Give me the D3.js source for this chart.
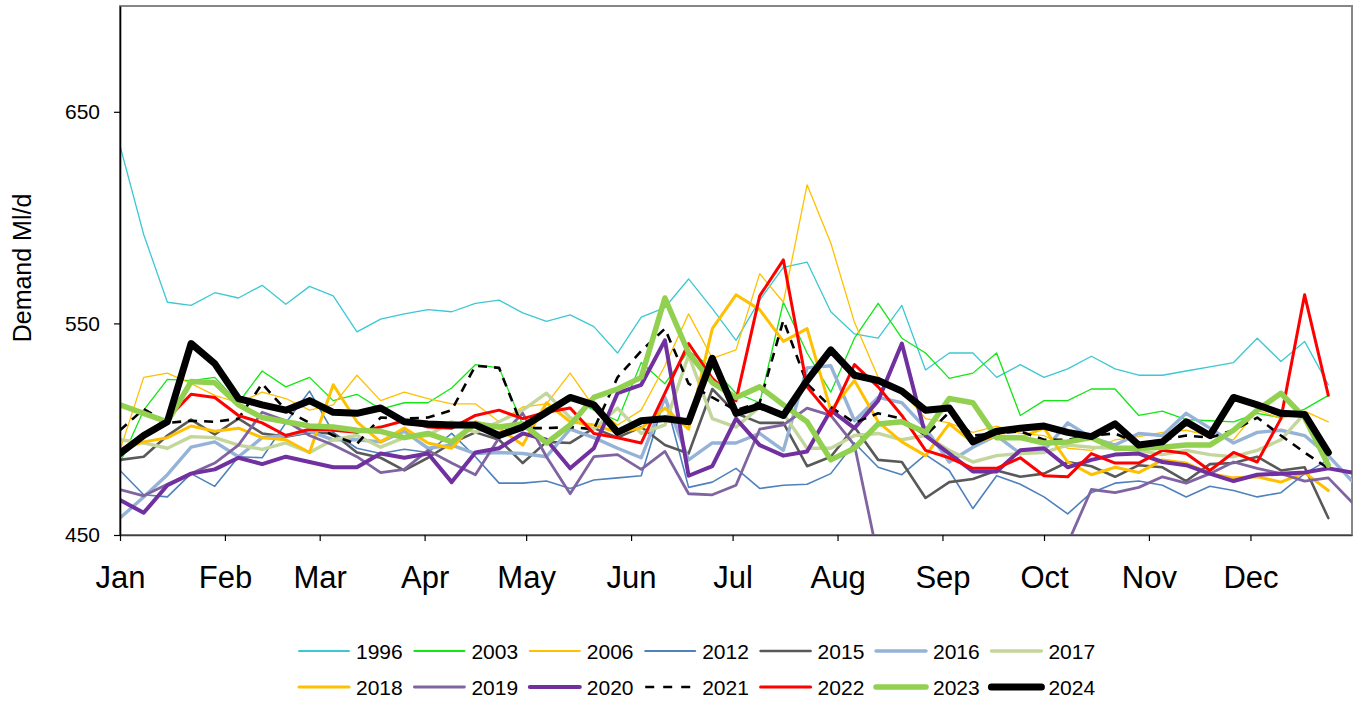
<!DOCTYPE html>
<html>
<head>
<meta charset="utf-8">
<script src="https://cdn.jsdelivr.net/npm/d3@7"></script>
<style>
  html, body { margin: 0; padding: 0; background: #ffffff; }
  svg { display: block; font-family: "Liberation Sans", Arial, sans-serif; }
</style>
</head>
<body>
<svg id="chart" width="1361" height="709"></svg>
<script>
// ---------------- data (weekly demand, Ml/d) ----------------
const monthLabels = ["Jan","Feb","Mar","Apr","May","Jun","Jul","Aug","Sep","Oct","Nov","Dec"];
const monthStartDays = [0,31,59,90,120,151,181,212,243,273,304,334];
const yTickValues = [450, 550, 650];
const seriesNames = ["1996","2003","2006","2012","2015","2016","2017","2018","2019","2020","2021","2022","2023","2024"];

const y1996 = [634,592,560,558.5,564.5,562,568,559,567.5,563,546,552,554.5,556.5,555.5,559.5,561,555,551,554,548.5,536,553,557.5,571,557,542,561,576.5,579,555.5,545,543,558.5,528,536,536,524.5,530.5,524.5,528.5,534.5,528.5,525.5,525.5,527.5,529.5,531.5,543,532,541.5,521];
const y2003 = [484,509,523.5,523,524.5,512.5,527.5,520,524.5,513.5,516.5,509.5,512.5,512.5,519.5,530.5,529,502,510,515,509,504,531.5,521.5,537,529,517,512.5,560,536,517.5,543,559.5,543,536,524,526.5,536,506.5,513.5,513.5,519,519,506.5,508.5,504.5,504,503.5,507.5,505.5,509.5,516];
const y2006 = [490,524.5,526.5,521.5,516,512.5,517.5,514.5,509,511.5,525.5,513.5,517.5,514.5,512,512,503.5,510.5,512,526.5,510.5,502,509,530,554.5,533.5,537.5,573.5,560,615.5,588,550.5,524.5,518,505,503,498.5,501.5,498,497,491,490,495,496.5,498.5,499.5,497,495,509,505,508.5,503.5];
const y2012 = [480.5,469,468,479,473,487,486.5,503,518,498.5,491,488.5,490.5,489,498,487,474.5,474.5,475.5,472,476,477,478,515,472.5,475,481.5,472,473.5,474,479,493.5,482,478.5,488,480.5,462.5,478,474,468,460,470,474.5,475.5,473.5,468,473,471,468,470,479,485.5];
const y2015 = [485.5,487,497,504.5,497.5,505,498,496.5,498.5,498,489,486.5,480.5,486.5,493.5,498.5,495,484,494,493.5,500.5,496,501,492.5,488.5,519,507.5,503,503,482.5,487,501,485.5,484.5,467.5,475,476.5,480.5,477.5,479,484.5,482.5,477.5,483,482,475.5,483.5,484,487,480.5,482,458];
const y2016 = [458,468,478.5,491.5,494,487,496,497,499,495,495,494,499,491,492.5,488.5,489,488.5,487,500,496,491,486.5,515,485.5,493.5,493.5,498,490,529,530,504,515,512.5,500.5,484.5,491.5,497,488.5,490,503,496,492.5,498,497,507.5,500.5,493.5,498.5,499.5,497,487.5,475.5];
const y2017 = [495,493.5,491,496.5,496,492.5,490.5,493.5,489,495,497,491.5,496,497,503.5,498.5,503.5,509,517,505.5,500,510,498,502,535,505,501,510.5,507.5,491,491,497,498,495,497,490,484.5,487.5,488.5,489,492.5,491.5,491,490,488,490,488,487,490,495,507.5,490];
const y2018 = [490,494,496,501.5,499,500.5,496,495,489,521,503.5,494,500.5,493.5,491,503.5,500.5,492.5,512.5,503.5,502,498.5,500.5,510,500,547.5,563.5,556.5,541.5,547.5,509,523,503.5,494,487.5,502.5,493.5,497,496,500.5,484.5,478.5,482,479.5,485.5,484,479,477,477.5,475,479.5,471];
const y2019 = [471.5,468.5,474,479,484,492.5,508,504,497,492.5,487,479.5,481,490,484,478.5,496,507.5,487,469.5,487,488,481,489.5,469.5,469,473.5,500,502,510,506.5,492.5,439,438,436,440,437,441,439,442,446,471.5,470,472.5,477.5,474.5,479,484.5,481.5,479,475.5,477,465.5];
const y2020 = [466.5,460.5,473.5,479,481,486.5,483.5,487,484.5,482,482,488.5,486.5,488.5,475,489,491,498,495,481.5,491,517,521,542,478,482.5,505,492.5,487.5,489.5,509,500.5,513.5,540.5,497,488.5,480,480,490,491,482,485.5,488,488.5,484.5,483,479,475.5,478.5,479,479.5,481.5,479.5];
const y2021 = [499.5,509.5,503,504,503.5,505,521.5,509,503,497,493,505.5,505,505.5,509,530,529,500.5,500.5,501,500,524.5,537,547.5,521.5,515,509,512.5,551.5,521.5,510.5,503,507.5,505,497,508,497,498,499,495,495,497,498,493,495,497,496,499.5,505.5,497,489,481.5];
const y2022 = [490,497,505,516.5,515,506.5,503,497,500,499.5,498.5,501,504,501,500.5,506.5,509,505,508,510,498,496,493.5,517,540.5,524,513.5,563,580,520,506.5,530.5,520,506.5,490,486.5,481.5,481.5,486.5,478,477.5,488.5,484,484,490,488.5,480.5,489,484.5,505,563.5,516];
const y2023 = [511.5,507.5,503.5,522.5,522,511.5,505.5,503.5,501.5,501,499.5,499,496,498,494,502.5,501,502.5,493.5,502,515,519,524.5,562,536,522,515,520,511.5,503.5,485.5,491,502.5,503.5,498.5,514.5,512.5,496,496,493.5,494,496,491,491,491.5,492.5,492.5,499.5,509,517,505.5,483];
const y2024 = [488.5,497,503.5,540.5,531,514.5,511.5,509,513.5,508,507.5,510,503.5,502.5,502,502,497,501,508,515,511.5,498.5,504,505,503.5,533.5,507.5,511,506.5,523,537.5,525.5,523,518,509,510,494,499,500.5,501.5,498.5,496.5,502.5,492.5,494,503.5,497,515,511.5,507.5,507,489];

const seriesValues = [y1996,y2003,y2006,y2012,y2015,y2016,y2017,y2018,y2019,y2020,y2021,y2022,y2023,y2024];

// ---------------- styles ----------------
const styles = {
  "1996": {color:"#3CC8D2", width:1.3},
  "2003": {color:"#14E614", width:1.3},
  "2006": {color:"#FFC000", width:1.3},
  "2012": {color:"#4F81BD", width:1.6},
  "2015": {color:"#595959", width:2.6},
  "2016": {color:"#95B3D7", width:3.4},
  "2017": {color:"#C3D69B", width:3.4},
  "2018": {color:"#FFC000", width:3},
  "2019": {color:"#8064A2", width:2.8},
  "2020": {color:"#7030A0", width:4},
  "2021": {color:"#000000", width:2.6, dash:"9,7"},
  "2022": {color:"#FF0000", width:3},
  "2023": {color:"#92D050", width:5.5},
  "2024": {color:"#000000", width:7}
};

const svg = d3.select("#chart");
const L = 120, R = 1352, T = 6, B = 535;

const x = d3.scaleLinear().domain([0, 364]).range([L, R]);
const y = d3.scaleLinear().domain([450, 700]).range([B, T]);

// plot-area frame (grey)
svg.append("rect").attr("x", L).attr("y", T).attr("width", R - L).attr("height", B - T)
  .attr("fill", "none").attr("stroke", "#868686").attr("stroke-width", 2);

svg.append("defs").append("clipPath").attr("id", "plotclip")
  .append("rect").attr("x", L).attr("y", T).attr("width", R - L).attr("height", B - T);

const line = d3.line().x((d, i) => x(i * 7)).y(d => y(d));

const g = svg.append("g").attr("clip-path", "url(#plotclip)");
seriesNames.forEach((name, k) => {
  const s = styles[name];
  g.append("path")
    .datum(seriesValues[k])
    .attr("d", line)
    .attr("fill", "none")
    .attr("stroke", s.color)
    .attr("stroke-width", s.width)
    .attr("stroke-linejoin", "round")
    .attr("stroke-linecap", s.dash ? "butt" : "round")
    .attr("stroke-dasharray", s.dash || null);
});

// y axis
const yAxis = svg.append("g").attr("transform", `translate(${L},0)`)
  .call(d3.axisLeft(y).tickValues(yTickValues).tickSize(6).tickPadding(14).tickSizeOuter(0));
yAxis.select(".domain").attr("stroke", "#000").attr("stroke-width", 1.6);
yAxis.selectAll(".tick line").attr("stroke", "#000").attr("stroke-width", 1.2);
yAxis.selectAll("text").attr("font-size", 21).attr("fill", "#000")
  .attr("font-family", "Liberation Sans, Arial, sans-serif");

// x axis
const xAxis = svg.append("g").attr("transform", `translate(0,${B})`)
  .call(d3.axisBottom(x).tickValues(monthStartDays).tickSize(6).tickSizeOuter(0)
    .tickFormat((d, i) => monthLabels[i]));
xAxis.select(".domain").attr("stroke", "#404040").attr("stroke-width", 1.6);
xAxis.selectAll(".tick line").attr("stroke", "#000").attr("stroke-width", 1.2);
xAxis.selectAll("text").attr("font-size", 31).attr("fill", "#000")
  .attr("y", 53).attr("dy", null)
  .attr("font-family", "Liberation Sans, Arial, sans-serif");

// axis title
svg.append("text")
  .attr("transform", "translate(31,268) rotate(-90)")
  .attr("text-anchor", "middle")
  .attr("font-size", 25)
  .attr("fill", "#000")
  .text("Demand Ml/d");

// legend
const legend = svg.append("g");
seriesNames.forEach((name, k) => {
  const s = styles[name];
  const row = Math.floor(k / 7), col = k % 7;
  const x0 = 297 + col * 115.4;
  const yy = 651 + row * 36;
  legend.append("line")
    .attr("x1", x0 + 2).attr("x2", x0 + 52).attr("y1", yy).attr("y2", yy)
    .attr("stroke", s.color)
    .attr("stroke-width", Math.max(s.width, 2))
    .attr("stroke-linecap", s.dash ? "butt" : "round")
    .attr("stroke-dasharray", s.dash ? "9,9" : null);
  legend.append("text")
    .attr("x", x0 + 59).attr("y", yy)
    .attr("dominant-baseline", "central")
    .attr("font-size", 21)
    .attr("fill", "#000")
    .text(name);
});
</script>
</body>
</html>
